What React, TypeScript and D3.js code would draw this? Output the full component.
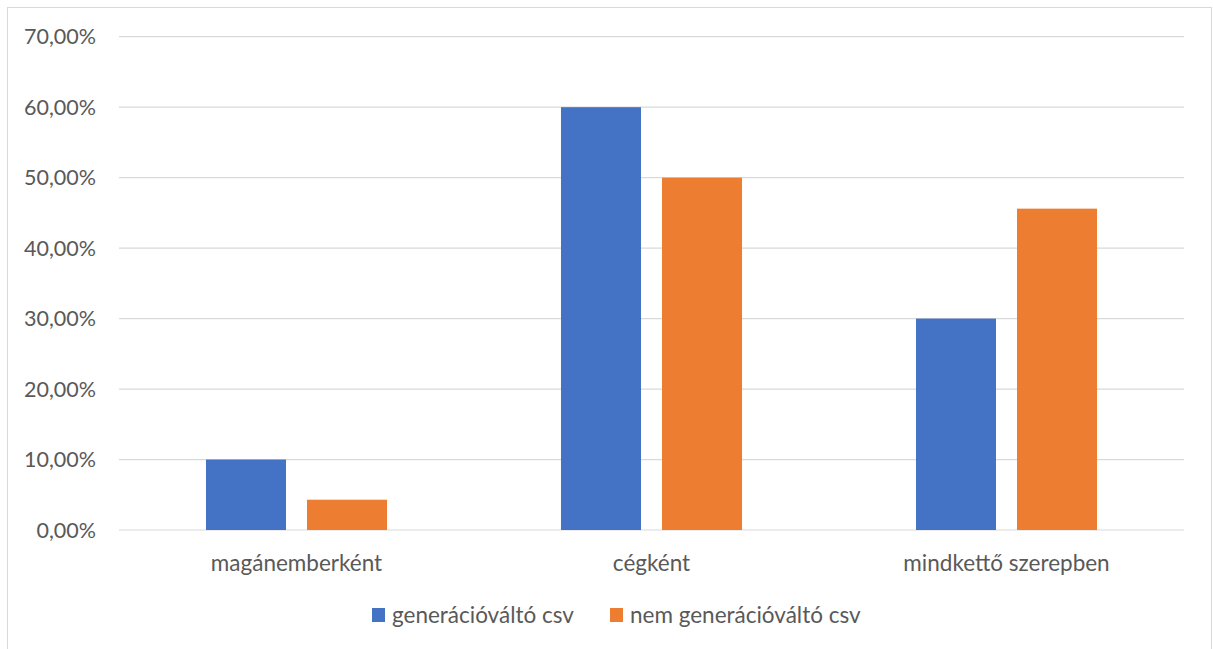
import React from "react";
import * as d3 from "d3";

const categories = ["magánemberként", "cégként", "mindkettő szerepben"];
const seriesNames = ["generációváltó csv", "nem generációváltó csv"];
const seriesColors = ["#4472C4", "#ED7D31"];
const generaciovalto = [0.1, 0.6, 0.3];
const nemGeneraciovalto = [0.043, 0.5, 0.456];
const yTicks = [0, 0.1, 0.2, 0.3, 0.4, 0.5, 0.6, 0.7];

const W = 1213;
const H = 649;
const plot = { left: 119, right: 1184, top: 36.7, bottom: 530 };
const FONT = "Lato, 'Open Sans', sans-serif";
const TEXT = "#595959";

export default function App() {
  const seriesValues = [generaciovalto, nemGeneraciovalto];
  const y = d3.scaleLinear().domain([0, 0.7]).range([plot.bottom, plot.top]);
  const x0 = d3
    .scaleBand<string>()
    .domain(categories)
    .range([plot.left, plot.right])
    .paddingInner(0.49)
    .paddingOuter(0.245);
  const x1 = d3
    .scaleBand<string>()
    .domain(seriesNames)
    .range([0, x0.bandwidth()])
    .paddingInner(0.208)
    .paddingOuter(0);
  const fmt = (v: number) => (v * 100).toFixed(2).replace(".", ",") + "%";

  const legendItems = [
    { name: seriesNames[0], color: seriesColors[0], x: 372 },
    { name: seriesNames[1], color: seriesColors[1], x: 610 },
  ];

  return (
    <svg
      width={W}
      height={H}
      style={{ position: "absolute", left: 0, top: 0, background: "#fff" }}
      fontFamily={FONT}
    >
      <rect x={7.5} y={7.5} width={1204} height={H + 10} fill="#fff" stroke="#D9D9D9" strokeWidth={1} />
      {yTicks.map((t) => (
        <g key={t}>
          <line x1={plot.left} x2={plot.right} y1={y(t)} y2={y(t)} stroke="#D9D9D9" strokeWidth={1.2} />
          <text x={96} y={y(t)} dy="0.35em" textAnchor="end" fontSize={21.5} fill={TEXT}>
            {fmt(t)}
          </text>
        </g>
      ))}
      {categories.map((c, ci) => (
        <g key={c} transform={`translate(${x0(c)},0)`}>
          {seriesNames.map((s, si) => {
            const v = seriesValues[si][ci];
            return (
              <rect
                key={s}
                x={x1(s)}
                y={y(v)}
                width={x1.bandwidth()}
                height={y(0) - y(v)}
                fill={seriesColors[si]}
              />
            );
          })}
          <text
            x={x0.bandwidth() / 2}
            y={563}
            dy="0.35em"
            textAnchor="middle"
            fontSize={22.5}
            fill={TEXT}
          >
            {c}
          </text>
        </g>
      ))}
      {legendItems.map((l) => (
        <g key={l.name}>
          <rect x={l.x} y={608} width={13} height={14} fill={l.color} />
          <text x={l.x + 20} y={615} dy="0.35em" fontSize={22.5} fill={TEXT}>
            {l.name}
          </text>
        </g>
      ))}
    </svg>
  );
}
